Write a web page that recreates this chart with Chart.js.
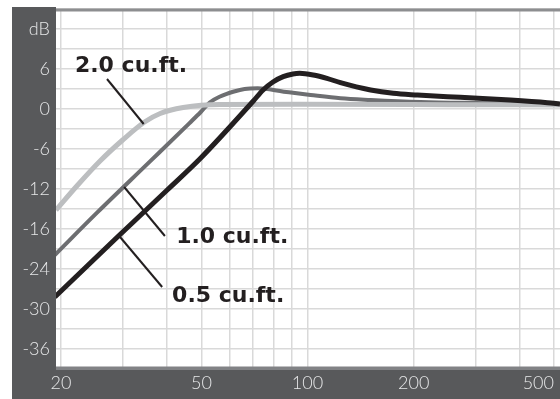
<!DOCTYPE html>
<html><head><meta charset="utf-8">
<script src="https://cdn.jsdelivr.net/npm/chart.js@4.4.1/dist/chart.umd.min.js"></script>
<style>html,body{margin:0;padding:0;background:#fff;}#wrap{width:560px;height:399px;}</style>
</head><body><div id="wrap"><canvas id="c" width="560" height="399"></canvas></div>
<script>
// ---- data (frequency in Hz, level in dB) ----
const freq20 = [19.35, 22.3, 25.8, 29.9, 34.5, 38.2, 44.4, 56.4, 95, 250, 520];
const db20   = [-15.15, -11.4, -7.8, -4.65, -1.95, -0.67, 0.22, 0.68, 0.7, 0.65, 0.6];

const freq10 = [19.2, 25.3, 35.7, 46.2, 49.8, 52.8, 56.5, 61.9, 66.3, 72.2, 85.6, 102, 124, 151, 209, 300, 520];
const db10   = [-21.9, -15.55, -7.9, -2.15, -0.45, 0.98, 1.88, 2.63, 3.0, 3.1, 2.6, 2.1, 1.6, 1.35, 1.05, 0.9, 0.75];

const freq05 = [19.2, 28.9, 40.0, 49.8, 70.2, 74.8, 79.8, 85.3, 90.9, 95.0, 103.8, 113.5, 124, 151, 175, 205, 271, 376, 479, 520];
const db05   = [-28.2, -19.2, -12.15, -7.35, 1.2, 2.85, 4.05, 4.85, 5.25, 5.35, 5.1, 4.6, 3.95, 2.85, 2.35, 2.1, 1.75, 1.35, 0.95, 0.75];

const seriesNames = ['0.5 cu.ft.', '2.0 cu.ft.', '1.0 cu.ft.'];

// ---- axes ----
const xMin = 19.35, xMax = 520;
const xGridValues = [20, 30, 40, 50, 60, 70, 80, 90, 100, 200, 300, 400, 500];
const xLabelValues = [20, 50, 100, 200, 500];
const yMin = -39, yMax = 15;
const yGridValues = [-39, -36, -33, -30, -27, -24, -21, -18, -15, -12, -9, -6, -3, 0, 3, 6, 9, 12, 15];
const yLabelValues = [12, 6, 0, -6, -12, -18, -24, -30, -36];
const yLabelTexts  = ['dB', '6', '0', '-6', '-12', '-16', '-24', '-30', '-36'];

// ---- annotations (data coordinates) ----
const annotLabels = ['2.0 cu.ft.', '1.0 cu.ft.', '0.5 cu.ft.'];
const annotTextFreq = [21.9, 42.4, 41.3];
const annotTextDb = [5.55, -20.15, -28.9];
const leaderFreqA = [27.0, 30.2, 29.4];
const leaderDbA = [4.5, -11.7, -19.2];
const leaderFreqB = [34.3, 39.4, 38.7];
const leaderDbB = [-2.25, -19.05, -26.7];

const toPts = (f, d) => f.map((v, i) => ({x: v, y: d[i]}));

const framePlugin = {
  id: 'frame',
  beforeDraw(chart) {
    const ctx = chart.ctx, ca = chart.chartArea;
    const padL = chart.options.layout.padding.left;
    ctx.save();
    ctx.fillStyle = '#ffffff';
    ctx.fillRect(0, 0, chart.width, chart.height);
    ctx.fillStyle = '#58595b';
    ctx.fillRect(padL, ca.top - 2, ca.left - padL, chart.height - ca.top + 2);
    ctx.fillRect(padL, ca.bottom, chart.width - padL, chart.height - ca.bottom);
    ctx.restore();
  },
  beforeDatasetsDraw(chart) {
    const ctx = chart.ctx, ca = chart.chartArea;
    ctx.save();
    ctx.fillStyle = '#8d8e90';
    ctx.fillRect(ca.left, ca.top - 0.5, ca.right - ca.left, 3);
    ctx.fillStyle = '#818285';
    ctx.fillRect(ca.left, ca.bottom - 2.5, ca.right - ca.left, 3.5);
    ctx.restore();
  },
  afterDatasetsDraw(chart) {
    const ctx = chart.ctx, xs = chart.scales.x, ys = chart.scales.y;
    ctx.save();
    ctx.strokeStyle = '#231f20';
    ctx.lineWidth = 2;
    for (let i = 0; i < annotLabels.length; i++) {
      ctx.beginPath();
      ctx.moveTo(xs.getPixelForValue(leaderFreqA[i]), ys.getPixelForValue(leaderDbA[i]));
      ctx.lineTo(xs.getPixelForValue(leaderFreqB[i]), ys.getPixelForValue(leaderDbB[i]));
      ctx.stroke();
    }
    ctx.fillStyle = '#231f20';
    ctx.font = 'bold 22px "DejaVu Sans"';
    ctx.textAlign = 'left';
    ctx.textBaseline = 'alphabetic';
    for (let i = 0; i < annotLabels.length; i++) {
      ctx.fillText(annotLabels[i], xs.getPixelForValue(annotTextFreq[i]), ys.getPixelForValue(annotTextDb[i]));
    }
    ctx.restore();
  }
};

const tickFont = {family: 'Lato', size: 18, weight: 300};

new Chart(document.getElementById('c'), {
  type: 'line',
  data: {
    datasets: [
      {label: seriesNames[0], data: toPts(freq05, db05), borderColor: '#231f20', borderWidth: 5, order: 1},
      {label: seriesNames[1], data: toPts(freq20, db20), borderColor: '#bcbec0', borderWidth: 5, order: 2},
      {label: seriesNames[2], data: toPts(freq10, db10), borderColor: '#6d6e71', borderWidth: 4, order: 3}
    ].map(d => Object.assign(d, {pointRadius: 0, fill: false, cubicInterpolationMode: 'monotone', borderCapStyle: 'butt'}))
  },
  options: {
    responsive: false,
    animation: false,
    devicePixelRatio: 1,
    layout: {padding: {left: 12, top: 9, right: 0, bottom: 0}},
    plugins: {legend: {display: false}, tooltip: {enabled: false}},
    scales: {
      x: {
        type: 'logarithmic', min: xMin, max: xMax,
        afterBuildTicks: s => { s.ticks = [{value: s.min}].concat(xGridValues.map(v => ({value: v}))); },
        afterFit: s => { s.height = 30; s.paddingLeft = 0; s.paddingRight = 0; },
        grid: {color: c => (c.tick && c.tick.value < 19.9) ? 'rgba(0,0,0,0)' : '#d9d9d9', lineWidth: 1.5, drawTicks: false},
        border: {display: false},
        ticks: {autoSkip: false, maxRotation: 0, minRotation: 0, align: 'inner', padding: 3, color: '#e6e7e8', font: tickFont,
          callback: v => xLabelValues.includes(v) ? String(v) : ''}
      },
      y: {
        type: 'linear', min: yMin, max: yMax,
        afterBuildTicks: s => { s.ticks = yGridValues.map(v => ({value: v})); },
        afterFit: s => { s.width = 44; s.paddingTop = 0; s.paddingBottom = 0; },
        grid: {color: '#d9d9d9', lineWidth: 1.5, drawTicks: false},
        border: {display: false},
        ticks: {autoSkip: false, padding: 6, color: '#e6e7e8', font: tickFont,
          callback: v => { const i = yLabelValues.indexOf(v); return i >= 0 ? yLabelTexts[i] : ''; }}
      }
    }
  },
  plugins: [framePlugin]
});
</script>
</body></html>
